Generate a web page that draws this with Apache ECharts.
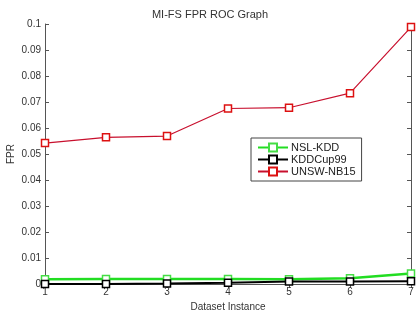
<!DOCTYPE html>
<html>
<head>
<meta charset="utf-8">
<script src="https://cdn.jsdelivr.net/npm/echarts@6/dist/echarts.min.js"></script>
<style>
  html, body { margin: 0; padding: 0; background: #fff; }
  #chart { width: 420px; height: 320px; }
</style>
</head>
<body>
<div id="chart"></div>
<script>
// data
var instances = [1, 2, 3, 4, 5, 6, 7];
var nslKdd = [0.0018, 0.0019, 0.0019, 0.0019, 0.0018, 0.0022, 0.0040];
var kddCup99 = [0.0000, 0.0000, 0.0002, 0.0005, 0.0010, 0.0010, 0.0011];
var unswNb15 = [0.0542, 0.0564, 0.0569, 0.0675, 0.0678, 0.0734, 0.0988];
var yTicks = [0, 0.01, 0.02, 0.03, 0.04, 0.05, 0.06, 0.07, 0.08, 0.09, 0.1];

function pairs(vals) {
    return instances.map(function (x, i) { return [x, vals[i]]; });
}

var dom = document.getElementById('chart');
var myChart = echarts.init(dom);
var font = 'Liberation Sans, Arial, sans-serif';

var option = {
    backgroundColor: '#FFFFFF',
    animation: false,
    title: {
        text: 'MI-FS FPR ROC Graph',
        left: 'center',
        top: 4,
        textStyle: { fontSize: 11, fontWeight: 'normal', color: '#333', fontFamily: font }
    },
    grid: { left: 45, right: 9, top: 24, bottom: 36, outerBoundsMode: 'none' },
    legend: {
        orient: 'vertical',
        left: 251,
        top: 138,
        width: 112,
        padding: [4, 6, 4, 6],
        itemGap: 1,
        itemWidth: 30,
        itemHeight: 10,
        borderColor: '#444',
        borderWidth: 1,
        backgroundColor: '#fff',
        textStyle: { fontSize: 11, color: '#222', fontFamily: font, padding: [0, 0, 0, -2] },
        data: ['NSL-KDD', 'KDDCup99', 'UNSW-NB15']
    },
    xAxis: [{
        type: 'value',
        min: 1, max: 7, interval: 1,
        name: 'Dataset Instance',
        nameLocation: 'middle',
        nameGap: 16,
        nameTextStyle: { fontSize: 10, color: '#333', fontFamily: font },
        axisLine: { lineStyle: { color: '#555' } },
        axisTick: { inside: true, length: 4, lineStyle: { color: '#555' } },
        axisLabel: { fontSize: 10, color: '#333', margin: 3, fontFamily: font },
        splitLine: { show: false }
    }, {
        type: 'value',
        position: 'top',
        min: 1, max: 7, interval: 1,
        axisLine: { show: true, lineStyle: { color: '#555' } },
        axisTick: { inside: true, length: 4, lineStyle: { color: '#555' } },
        axisLabel: { show: false },
        splitLine: { show: false }
    }],
    yAxis: [{
        type: 'value',
        min: 0, max: 0.1, interval: 0.01,
        name: 'FPR',
        nameLocation: 'middle',
        nameGap: 29,
        nameMoveOverlap: false,
        nameTextStyle: { fontSize: 10, color: '#333', fontFamily: font },
        axisLine: { show: true, lineStyle: { color: '#555' } },
        axisTick: { show: true, inside: true, length: 4, lineStyle: { color: '#555' } },
        axisLabel: {
            fontSize: 10, color: '#333', margin: 4, fontFamily: font,
            formatter: function (v) {
                var t = yTicks.find(function (k) { return Math.abs(k - v) < 1e-9; });
                return t === undefined ? '' : String(t);
            }
        },
        splitLine: { show: false }
    }, {
        type: 'value',
        position: 'right',
        min: 0, max: 0.1, interval: 0.01,
        axisLine: { show: true, lineStyle: { color: '#555' } },
        axisTick: { show: true, inside: true, length: 4, lineStyle: { color: '#555' } },
        axisLabel: { show: false },
        splitLine: { show: false }
    }],
    series: [{
        name: 'NSL-KDD',
        type: 'line',
        data: pairs(nslKdd),
        symbol: 'rect',
        symbolSize: 7,
        lineStyle: { color: '#22dd22', width: 2.5 },
        itemStyle: { color: '#ffffff', borderColor: '#44dd44', borderWidth: 1.5 },
        z: 2
    }, {
        name: 'KDDCup99',
        type: 'line',
        data: pairs(kddCup99),
        symbol: 'rect',
        symbolSize: 7,
        lineStyle: { color: '#000000', width: 2 },
        itemStyle: { color: '#ffffff', borderColor: '#000000', borderWidth: 1.5 },
        z: 3
    }, {
        name: 'UNSW-NB15',
        type: 'line',
        data: pairs(unswNb15),
        symbol: 'rect',
        symbolSize: 7,
        lineStyle: { color: '#c8102e', width: 1.2 },
        itemStyle: { color: '#ffffff', borderColor: '#dd1111', borderWidth: 1.5 },
        z: 4
    }]
};

myChart.setOption(option);
</script>
</body>
</html>
